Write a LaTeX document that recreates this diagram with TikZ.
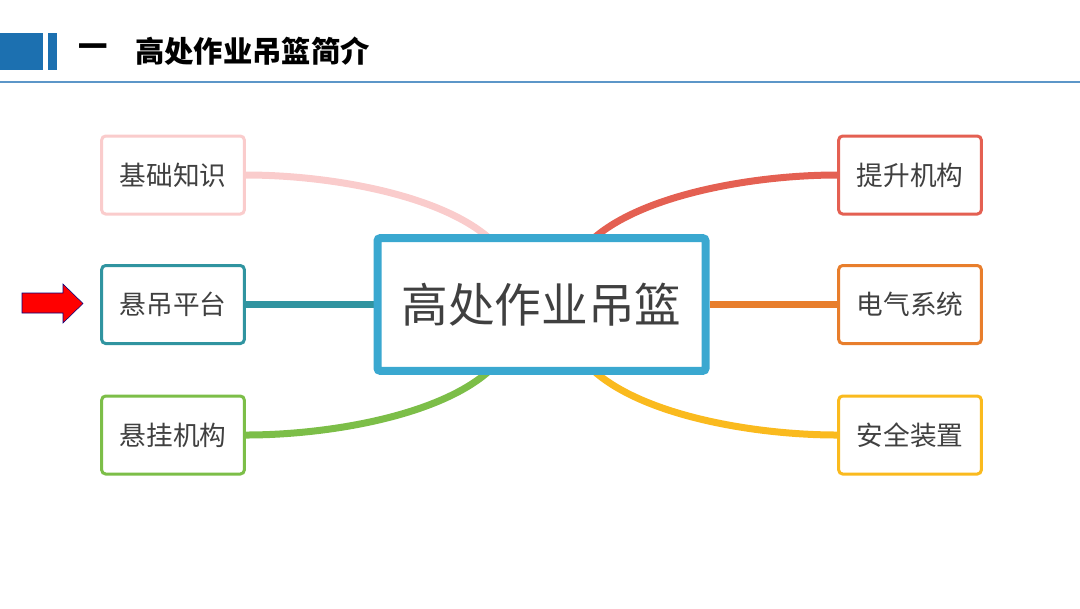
\documentclass[tikz,border=0pt]{standalone}
\usepackage{fontspec}
\newfontfamily\cjk{Noto Sans CJK SC}
\usetikzlibrary{backgrounds}
\definecolor{hdrblue}{RGB}{28,112,176}
\definecolor{rulec}{RGB}{92,150,200}
\definecolor{hubc}{RGB}{58,168,208}
\definecolor{basec}{RGB}{250,204,204}
\definecolor{platc}{RGB}{48,148,160}
\definecolor{suspc}{RGB}{124,190,72}
\definecolor{liftc}{RGB}{228,96,82}
\definecolor{elecc}{RGB}{232,126,44}
\definecolor{safec}{RGB}{250,186,30}
\definecolor{txtc}{RGB}{64,64,64}

\begin{document}
\begin{tikzpicture}[
    x=0.75pt,y=-0.75pt,
    leaf/.style={rectangle,draw=#1,fill=white,line width=2.25pt,rounded corners=3pt,
                 minimum width=107pt,minimum height=58.5pt,
                 font=\cjk\fontsize{20}{24}\selectfont,text=txtc},
    hub/.style={rectangle,draw=hubc,fill=white,line width=6pt,rounded corners=2pt,
                minimum width=246pt,minimum height=99.5pt,
                font=\cjk\fontsize{35}{40}\selectfont,text=txtc},
    link/.style={line width=5.25pt,draw=#1},
    hdr/.style={font=\cjk\bfseries\fontsize{22}{26}\selectfont,text=black,inner sep=0pt}
  ]
  \useasboundingbox (0,0) rectangle (1080,608);
  % header
  \fill[hdrblue] (0,33) rectangle (43,70);
  \fill[hdrblue] (48,33) rectangle (57,70);
  \draw[rulec,line width=1pt] (0,82) -- (1080,82);
  \node[hdr,anchor=west] (num)   at (78,51)  {一};
  \node[hdr,anchor=west] (title) at (135,51) {高处作业吊篮简介};
  % mind map
  \node[hub]          (ctr)  at (541.5,304.5) {高处作业吊篮};
  \node[leaf=basec]   (base) at (173,175)   {基础知识};
  \node[leaf=platc]   (plat) at (173,304.5) {悬吊平台};
  \node[leaf=suspc]   (susp) at (173,435)   {悬挂机构};
  \node[leaf=liftc]   (lift) at (910,175)   {提升机构};
  \node[leaf=elecc]   (elec) at (910,304.5) {电气系统};
  \node[leaf=safec]   (safe) at (910,435)   {安全装置};
  \begin{pgfonlayer}{background}
    \draw[link=basec] ([xshift=-36pt,yshift=-6pt]ctr.north) .. controls (445,195) and (330,175) .. (base.east);
    \draw[link=platc] (ctr) -- (plat.east);
    \draw[link=suspc] ([xshift=-36pt,yshift=6pt]ctr.south) .. controls (445,415) and (330,435) .. (susp.east);
    \draw[link=liftc] ([xshift=36pt,yshift=-6pt]ctr.north) .. controls (638,195) and (753,175) .. (lift.west);
    \draw[link=elecc] (ctr) -- (elec.west);
    \draw[link=safec] ([xshift=36pt,yshift=6pt]ctr.south) .. controls (638,415) and (753,435) .. (safe.west);
  \end{pgfonlayer}
  % pointer
  \draw[fill=red,draw=blue!50!black,line width=0.4pt]
    (22,293) -- (63,293) -- (63,284) -- (83,303.5) -- (63,323) -- (63,313) -- (22,313) -- cycle;
\end{tikzpicture}
\end{document}
